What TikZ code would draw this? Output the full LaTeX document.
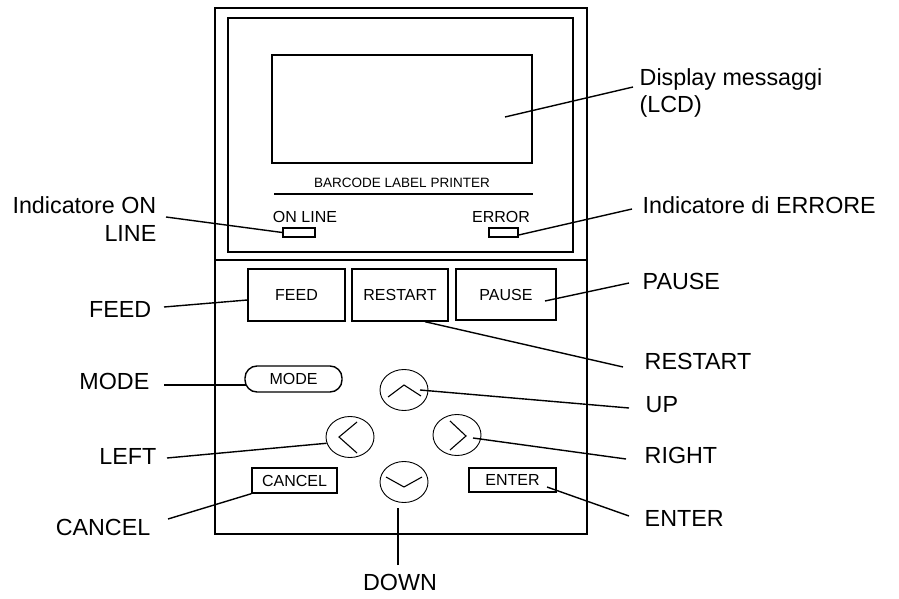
\documentclass[tikz,border=0pt]{standalone}
\usepackage{fontspec}
\setmainfont{Liberation Sans}
\usetikzlibrary{shapes.geometric}
\begin{document}
\begin{tikzpicture}[x=1pt,y=-1pt,line width=1.4pt,
  btn/.style={draw,inner sep=0pt,font=\fontsize{16}{18}\selectfont},
  keyo/.style={draw,ellipse,line width=0.9pt,minimum width=48pt,minimum height=41pt,inner sep=0pt},
  led/.style={draw,inner sep=0pt,minimum height=9pt},
  lbl/.style={inner sep=0pt,font=\fontsize{23.3}{27.5}\selectfont}]
  \useasboundingbox (0,0) rectangle (899,599);
  \draw (215,8) rectangle (587,260) (228,18) rectangle (573,252) (215,260) rectangle (587,534);
  \node[draw,minimum width=260pt,minimum height=108pt] (lcd) at (402,109) {};
  \node[inner sep=0pt,font=\fontsize{13.5}{16}\selectfont] (brand) at (402,183) {BARCODE LABEL PRINTER};
  \draw (274,194) -- (533,194);
  \node[btn,draw=none] (ontxt) at (305,217) {ON LINE};
  \node[btn,draw=none] (errtxt) at (501,217) {ERROR};
  \node[led,minimum width=32pt] (onled) at (299,232.5) {};
  \node[led,minimum width=29pt] (errled) at (503.5,232.5) {};
  % tasti
  \node[btn,minimum width=97pt,minimum height=52pt] (feed) at (296.5,295) {FEED};
  \node[btn,minimum width=96pt,minimum height=52pt] (restart) at (400,295) {RESTART};
  \node[btn,minimum width=100pt,minimum height=51pt] (pause) at (506,294.5) {PAUSE};
  \node[btn,rounded corners=12pt,minimum width=97pt,minimum height=26pt] (mode) at (293.5,379) {MODE};
  \node[btn,minimum width=85pt,minimum height=25pt] (cancel) at (294.5,480.5) {CANCEL};
  \node[btn,minimum width=87pt,minimum height=24pt] (enter) at (512.5,480) {ENTER};
  \node[keyo] (up) at (404,390) {};
  \node[keyo] (left) at (350,437) {};
  \node[keyo] (right) at (457,435) {};
  \node[keyo] (down) at (404,482) {};
  \draw[line width=1.1pt] ([shift={(-16,7)}]up.center) -- ([shift={(0,-5)}]up.center) -- ([shift={(17,6)}]up.center);
  \draw[line width=1.1pt] ([shift={(7,-15)}]left.center) -- ([shift={(-11,0)}]left.center) -- ([shift={(7,16)}]left.center);
  \draw[line width=1.1pt] ([shift={(-7,-14)}]right.center) -- ([shift={(9,1)}]right.center) -- ([shift={(-7,15)}]right.center);
  \draw[line width=1.1pt] ([shift={(-18,-5)}]down.center) -- ([shift={(0,5)}]down.center) -- ([shift={(18,-5)}]down.center);
  % etichette
  \node[lbl,anchor=base east,align=right] (lonline) at (157,241) {Indicatore ON\\LINE};
  \node[lbl,anchor=base east] (lfeed) at (152,317) {FEED};
  \node[lbl,anchor=base east] (lmode) at (150,389) {MODE};
  \node[lbl,anchor=base east] (lleft) at (157,464) {LEFT};
  \node[lbl,anchor=base east] (lcancel) at (151,535) {CANCEL};
  \node[lbl,anchor=base west,align=left] (ldisp) at (639,113) {Display messaggi\\(LCD)};
  \node[lbl,anchor=base west] (lerr) at (642,213) {Indicatore di ERRORE};
  \node[lbl,anchor=base west] (lpause) at (642,289) {PAUSE};
  \node[lbl,anchor=base west] (lrestart) at (644,369) {RESTART};
  \node[lbl,anchor=base west] (lup) at (645,412) {UP};
  \node[lbl,anchor=base west] (lright) at (644,463) {RIGHT};
  \node[lbl,anchor=base west] (lenter) at (644,526) {ENTER};
  \node[lbl,anchor=base] (ldown) at (400,590) {DOWN};
  \draw ([shift={(9,-24)}]lonline.base east) -- (onled.west);
  \draw ([shift={(12,-10)}]lfeed.base east) -- ([shift={(0,5)}]feed.west);
  \draw ([shift={(14,-4)}]lmode.base east) -- ([shift={(1.5,6)}]mode.west);
  \draw ([shift={(10,-6)}]lleft.base east) -- (left.195);
  \draw ([shift={(17,-16)}]lcancel.base east) -- (cancel.south west);
  \draw ([shift={(-6,-26)}]ldisp.base west) -- ([shift={(103,8)}]lcd.center);
  \draw ([shift={(-10,-4)}]lerr.base west) -- ([shift={(0,2.5)}]errled.east);
  \draw ([shift={(-13,-6)}]lpause.base west) -- ([shift={(39,6.5)}]pause.center);
  \draw ([shift={(-21,-2)}]lrestart.base west) -- ([shift={(25,0)}]restart.south);
  \draw ([shift={(-16,-4)}]lup.base west) -- ([shift={(16,0)}]up.center);
  \draw ([shift={(-18,-4)}]lright.base west) -- ([shift={(16,3)}]right.center);
  \draw ([shift={(-15,-10)}]lenter.base west) -- ([shift={(34.5,7)}]enter.center);
  \draw ([shift={(-2,-25)}]ldown.base) -- ([shift={(-6,5.5)}]down.south);
\end{tikzpicture}
\end{document}
